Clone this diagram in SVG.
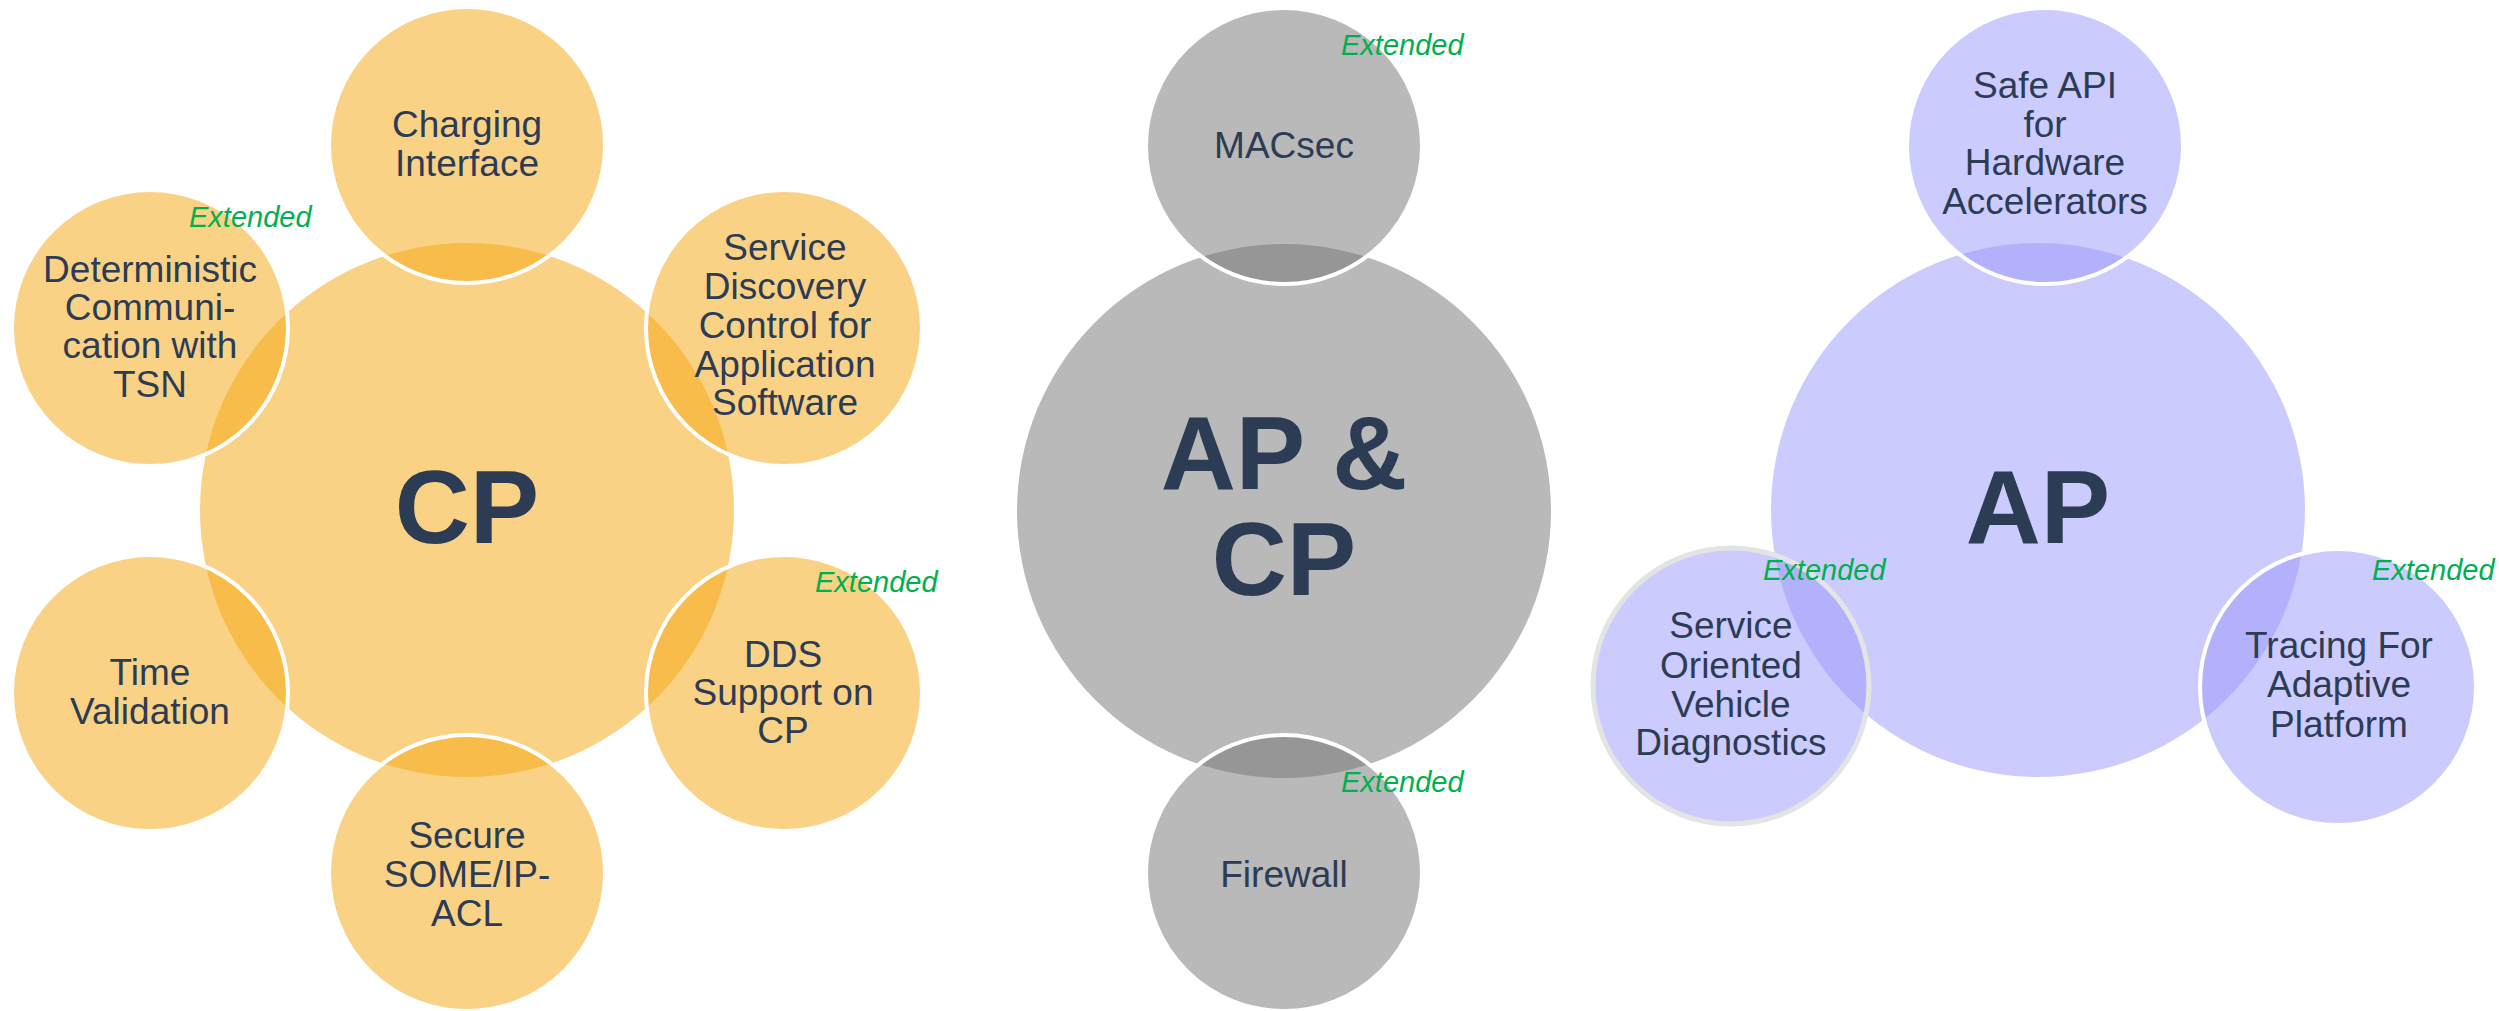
<svg xmlns="http://www.w3.org/2000/svg" width="2499" height="1011" viewBox="0 0 2499 1011">
<defs>
<style>
.bg{fill:#ffffff}
.o-main{fill:#FAD286}
.o-sat{fill:#F5A50D;fill-opacity:0.5;stroke:#ffffff;stroke-width:4}
.g-main{fill:#B8B9B8}
.g-sat{fill:#717371;fill-opacity:0.5;stroke:#ffffff;stroke-width:4}
.p-main{fill:#CCCBFD}
.p-sat{fill:#9997FB;fill-opacity:0.5;stroke:#ffffff;stroke-width:4}
.p-sat2{fill:#9997FB;fill-opacity:0.5;stroke:#E4E4E4;stroke-width:5}
.lbl{font-family:"Liberation Sans",Arial,sans-serif;font-size:37px;fill:#2C3C54;text-anchor:middle}
.big{font-family:"Liberation Sans",Arial,sans-serif;font-size:104px;font-weight:bold;fill:#2C3C54;text-anchor:middle}
.ext{font-family:"Liberation Sans",Arial,sans-serif;font-size:29px;font-style:italic;fill:#00B050}
</style>
</defs>
<rect class="bg" x="0" y="0" width="2499" height="1011"/>

<!-- CP cluster -->
<g id="cp">
<circle class="o-main" cx="467" cy="510" r="267"/>
<text class="big" x="467" y="543">CP</text>
</g>
<g id="charging-interface">
<circle class="o-sat" cx="467" cy="145" r="138"/>
<text class="lbl"><tspan x="467" y="137">Charging</tspan><tspan x="467" y="176">Interface</tspan></text>
</g>
<g id="deterministic-communication">
<circle class="o-sat" cx="150" cy="328" r="138"/>
<text class="lbl"><tspan x="150" y="282">Deterministic</tspan><tspan x="150" y="320">Communi-</tspan><tspan x="150" y="358">cation with</tspan><tspan x="150" y="397">TSN</tspan></text>
<text class="ext" x="189" y="227">Extended</text>
</g>
<g id="service-discovery">
<circle class="o-sat" cx="784" cy="328" r="138"/>
<text class="lbl"><tspan x="785" y="260">Service</tspan><tspan x="785" y="299">Discovery</tspan><tspan x="785" y="338">Control for</tspan><tspan x="785" y="377">Application</tspan><tspan x="785" y="415">Software</tspan></text>
</g>
<g id="time-validation">
<circle class="o-sat" cx="150" cy="693" r="138"/>
<text class="lbl"><tspan x="150" y="685">Time</tspan><tspan x="150" y="724">Validation</tspan></text>
</g>
<g id="dds-support">
<circle class="o-sat" cx="784" cy="693" r="138"/>
<text class="lbl"><tspan x="783" y="667">DDS</tspan><tspan x="783" y="705">Support on</tspan><tspan x="783" y="743">CP</tspan></text>
<text class="ext" x="815" y="592">Extended</text>
</g>
<g id="secure-someip-acl">
<circle class="o-sat" cx="467" cy="873" r="138"/>
<text class="lbl"><tspan x="467" y="848">Secure</tspan><tspan x="467" y="887">SOME/IP-</tspan><tspan x="467" y="926">ACL</tspan></text>
</g>

<!-- AP & CP cluster -->
<g id="ap-cp">
<circle class="g-main" cx="1284" cy="511" r="267"/>
<text class="big"><tspan x="1284" y="489">AP &amp;</tspan><tspan x="1284" y="595">CP</tspan></text>
</g>
<g id="macsec">
<circle class="g-sat" cx="1284" cy="146" r="138"/>
<text class="lbl" x="1284" y="158">MACsec</text>
<text class="ext" x="1341" y="55">Extended</text>
</g>
<g id="firewall">
<circle class="g-sat" cx="1284" cy="873" r="138"/>
<text class="lbl" x="1284" y="887">Firewall</text>
<text class="ext" x="1341" y="792">Extended</text>
</g>

<!-- AP cluster -->
<g id="ap">
<circle class="p-main" cx="2038" cy="510" r="267"/>
<text class="big" x="2038" y="543">AP</text>
</g>
<g id="safe-api">
<circle class="p-sat" cx="2045" cy="146" r="138"/>
<text class="lbl"><tspan x="2045" y="98">Safe API</tspan><tspan x="2045" y="137">for</tspan><tspan x="2045" y="175">Hardware</tspan><tspan x="2045" y="214">Accelerators</tspan></text>
</g>
<g id="service-oriented-vehicle-diagnostics">
<circle class="p-sat2" cx="1731" cy="686" r="138"/>
<text class="lbl"><tspan x="1731" y="638">Service</tspan><tspan x="1731" y="678">Oriented</tspan><tspan x="1731" y="717">Vehicle</tspan><tspan x="1731" y="755">Diagnostics</tspan></text>
<text class="ext" x="1763" y="580">Extended</text>
</g>
<g id="tracing-adaptive-platform">
<circle class="p-sat" cx="2338" cy="687" r="138"/>
<text class="lbl"><tspan x="2339" y="658">Tracing For</tspan><tspan x="2339" y="697">Adaptive</tspan><tspan x="2339" y="737">Platform</tspan></text>
<text class="ext" x="2372" y="580">Extended</text>
</g>
</svg>
